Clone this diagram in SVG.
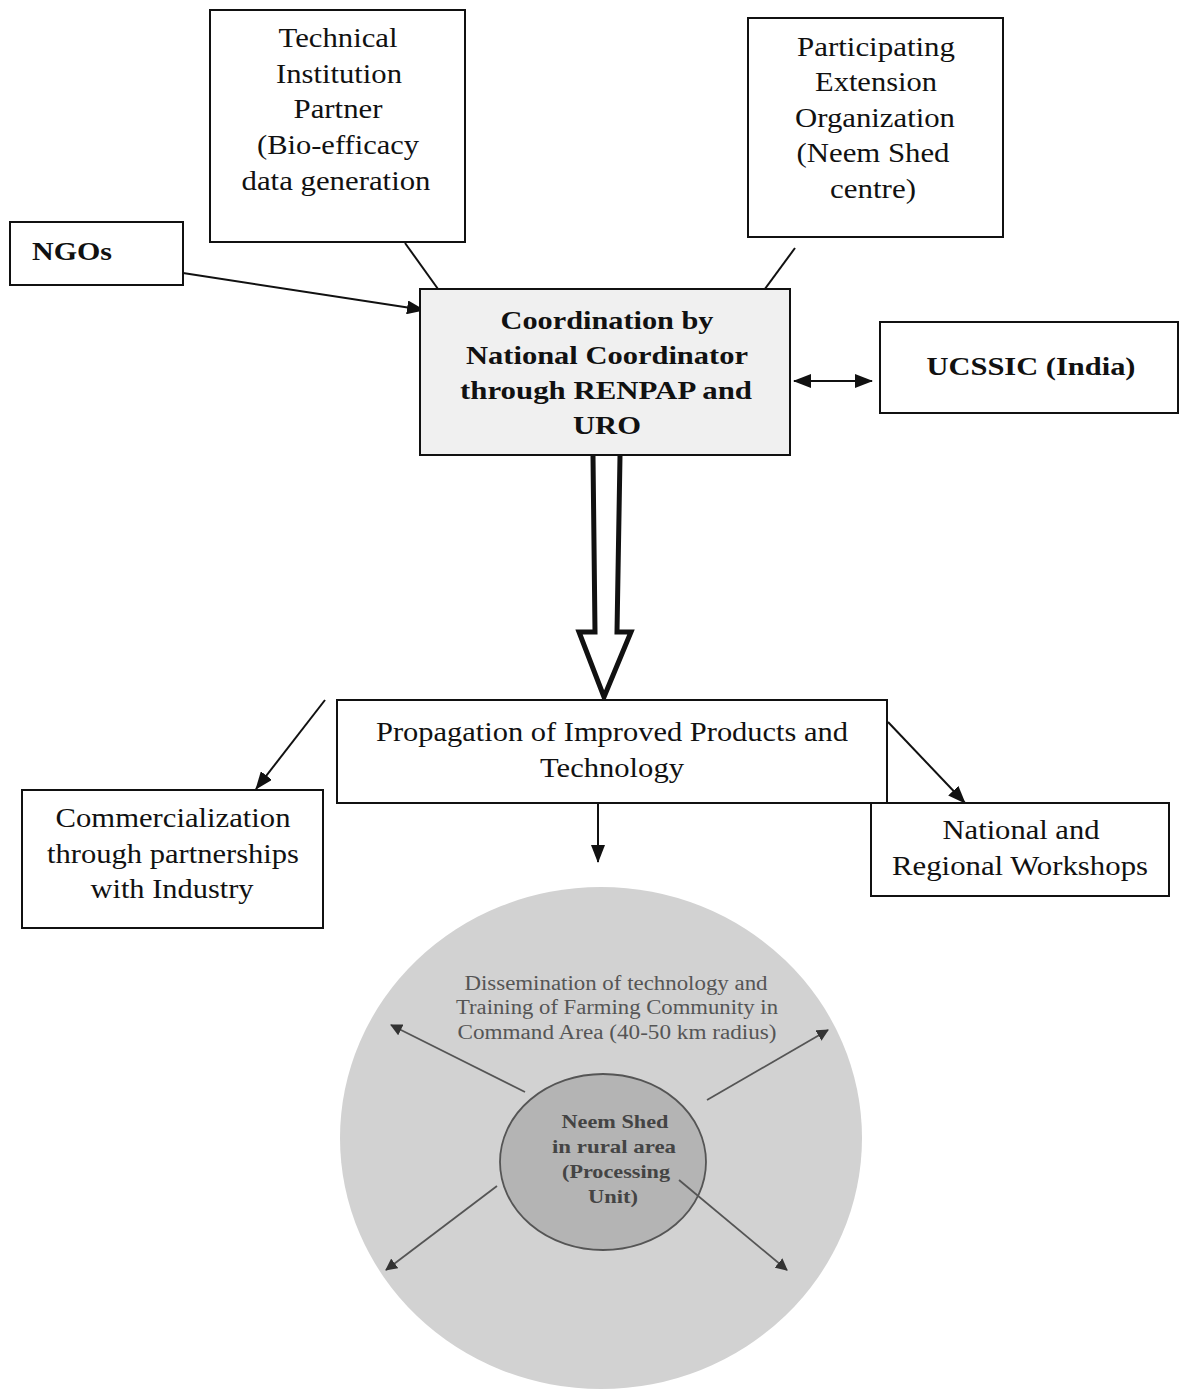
<svg xmlns="http://www.w3.org/2000/svg" width="1179" height="1391" viewBox="0 0 1179 1391">
<style>
.box{fill:#fff;stroke:#111;stroke-width:2}
.t{font-family:"Liberation Serif",serif;font-size:28px;fill:#111;text-anchor:middle}
.b{font-weight:bold;font-size:26px}
.ln{stroke:#111;stroke-width:2;fill:none}
.ci{font-family:"Liberation Serif",serif;font-size:20px;fill:#555;text-anchor:middle}
.cb{font-weight:bold;font-size:19px;fill:#444}
.cl{stroke:#555;stroke-width:1.8;fill:none}
</style>
<defs>
<marker id="ahs" markerWidth="18" markerHeight="14" refX="17" refY="7" orient="auto-start-reverse" markerUnits="userSpaceOnUse" viewBox="0 0 18 14"><path d="M0,0 L18,7 L0,14 z" fill="#111"/></marker>
<marker id="ahg" markerWidth="12" markerHeight="12" refX="11" refY="6" orient="auto" markerUnits="userSpaceOnUse" viewBox="0 0 12 12"><path d="M0,0 L12,6 L0,12 z" fill="#333"/></marker>
</defs>
<rect width="1179" height="1391" fill="#fff"/>
<g id="connectors">
<line class="ln" x1="405" y1="243" x2="438" y2="289"/>
<line class="ln" x1="795" y1="248" x2="762" y2="293"/>
<line class="ln" x1="183" y1="273" x2="424" y2="310" marker-end="url(#ahs)"/>
<line class="ln" x1="794" y1="381" x2="872" y2="381" marker-start="url(#ahs)" marker-end="url(#ahs)"/>
<path d="M593,456 L595,632 L579,632 L604,697 L631,632 L617,632 L620,456" fill="#fff" stroke="#111" stroke-width="5" stroke-linejoin="miter"/>
<line class="ln" x1="325" y1="700" x2="256" y2="789" marker-end="url(#ahs)"/>
<line class="ln" x1="888" y1="722" x2="965" y2="803" marker-end="url(#ahs)"/>
<line class="ln" x1="598" y1="803" x2="598" y2="862" marker-end="url(#ahs)"/>
</g>
<g id="tech"><rect class="box" x="210" y="10" width="255" height="232"/>
<text class="t" x="338" y="47" textLength="119" lengthAdjust="spacingAndGlyphs">Technical</text>
<text class="t" x="339" y="83" textLength="126" lengthAdjust="spacingAndGlyphs">Institution</text>
<text class="t" x="338" y="118" textLength="89" lengthAdjust="spacingAndGlyphs">Partner</text>
<text class="t" x="338" y="154" textLength="162" lengthAdjust="spacingAndGlyphs">(Bio-efficacy</text>
<text class="t" x="336" y="190" textLength="189" lengthAdjust="spacingAndGlyphs">data generation</text></g>
<g id="pext"><rect class="box" x="748" y="18" width="255" height="219"/>
<text class="t" x="876" y="56" textLength="158" lengthAdjust="spacingAndGlyphs">Participating</text>
<text class="t" x="876" y="91" textLength="122" lengthAdjust="spacingAndGlyphs">Extension</text>
<text class="t" x="875" y="127" textLength="160" lengthAdjust="spacingAndGlyphs">Organization</text>
<text class="t" x="873" y="162" textLength="153" lengthAdjust="spacingAndGlyphs">(Neem Shed</text>
<text class="t" x="873" y="198" textLength="86" lengthAdjust="spacingAndGlyphs">centre)</text></g>
<g id="ngo"><rect class="box" x="10" y="222" width="173" height="63"/><text class="t b" x="72" y="260" textLength="80" lengthAdjust="spacingAndGlyphs">NGOs</text></g>
<g id="coord"><rect x="420" y="289" width="370" height="166" fill="#f0f0f0" stroke="#111" stroke-width="2"/>
<text class="t b" x="607" y="329" textLength="213" lengthAdjust="spacingAndGlyphs">Coordination by</text>
<text class="t b" x="607" y="364" textLength="282" lengthAdjust="spacingAndGlyphs">National Coordinator</text>
<text class="t b" x="606" y="399" textLength="292" lengthAdjust="spacingAndGlyphs">through RENPAP and</text>
<text class="t b" x="607" y="434" textLength="68" lengthAdjust="spacingAndGlyphs">URO</text></g>
<g id="ucssic"><rect class="box" x="880" y="322" width="298" height="91"/><text class="t b" x="1031" y="375" textLength="209" lengthAdjust="spacingAndGlyphs">UCSSIC (India)</text></g>
<g id="prop"><rect class="box" x="337" y="700" width="550" height="103"/>
<text class="t" x="612" y="741" textLength="472" lengthAdjust="spacingAndGlyphs">Propagation of Improved Products and</text>
<text class="t" x="612" y="777" textLength="144" lengthAdjust="spacingAndGlyphs">Technology</text></g>
<g id="comm"><rect class="box" x="22" y="790" width="301" height="138"/>
<text class="t" x="173" y="827" textLength="235" lengthAdjust="spacingAndGlyphs">Commercialization</text>
<text class="t" x="173" y="863" textLength="252" lengthAdjust="spacingAndGlyphs">through partnerships</text>
<text class="t" x="172" y="898" textLength="163" lengthAdjust="spacingAndGlyphs">with Industry</text></g>
<g id="nat"><rect class="box" x="871" y="803" width="298" height="93"/>
<text class="t" x="1021" y="839" textLength="157" lengthAdjust="spacingAndGlyphs">National and</text>
<text class="t" x="1020" y="875" textLength="256" lengthAdjust="spacingAndGlyphs">Regional Workshops</text></g>
<g id="area">
<ellipse cx="601" cy="1138" rx="261" ry="251" fill="#d2d2d2"/>
<text class="ci" x="616" y="990" textLength="303" lengthAdjust="spacingAndGlyphs">Dissemination of technology and</text>
<text class="ci" x="617" y="1014" textLength="322" lengthAdjust="spacingAndGlyphs">Training of Farming Community in</text>
<text class="ci" x="617" y="1039" textLength="319" lengthAdjust="spacingAndGlyphs">Command Area (40-50 km radius)</text>
</g>
<g id="shed">
<ellipse cx="603" cy="1162" rx="103" ry="88" fill="#b4b4b4" stroke="#555" stroke-width="1.8"/>
<text class="ci cb" x="615" y="1128" textLength="107" lengthAdjust="spacingAndGlyphs">Neem Shed</text>
<text class="ci cb" x="614" y="1153" textLength="124" lengthAdjust="spacingAndGlyphs">in rural area</text>
<text class="ci cb" x="616" y="1178" textLength="108" lengthAdjust="spacingAndGlyphs">(Processing</text>
<text class="ci cb" x="613" y="1203" textLength="50" lengthAdjust="spacingAndGlyphs">Unit)</text>
</g>
<g id="circle-arrows">
<line class="cl" x1="525" y1="1092" x2="391" y2="1025" marker-end="url(#ahg)"/>
<line class="cl" x1="707" y1="1100" x2="828" y2="1030" marker-end="url(#ahg)"/>
<line class="cl" x1="497" y1="1186" x2="386" y2="1270" marker-end="url(#ahg)"/>
<line class="cl" x1="679" y1="1180" x2="787" y2="1270" marker-end="url(#ahg)"/>
</g>
</svg>
